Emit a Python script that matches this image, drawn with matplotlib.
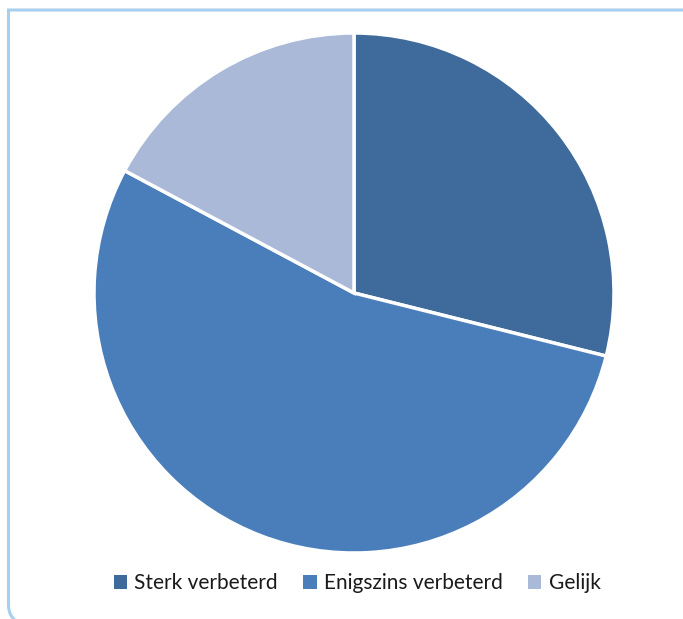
import matplotlib
matplotlib.use("Agg")
import matplotlib.pyplot as plt
from matplotlib.patches import Patch, PathPatch
from matplotlib.path import Path

# data
labels = ['Sterk verbeterd', 'Enigszins verbeterd', 'Gelijk']
values = [28.9, 53.9, 17.2]
colors = ['#3F6A9C', '#4A7EBB', '#AAB9D7']

plt.rcParams['font.family'] = ['Lato', 'DejaVu Sans']

W, H = 683, 619
fig = plt.figure(figsize=(W / 100, H / 100), dpi=100)

# light blue frame: top and left edges, rounded bottom-left corner (pixel coords)
x0, ytop, r = 8.5, 10, 14
verts = [(W + 5, H - ytop), (x0, H - ytop), (x0, r), (x0, 0), (x0 + r, -6)]
codes = [Path.MOVETO, Path.LINETO, Path.LINETO, Path.CURVE3, Path.CURVE3]
verts = [(x / W, y / H) for x, y in verts]
fig.patches.append(PathPatch(Path(verts, codes), transform=fig.transFigure,
                             facecolor='none', edgecolor='#A9CFEF', joinstyle='miter',
                             linewidth=2.2, clip_on=False))

ax = fig.add_axes([(354 - 260) / W, (H - 293 - 260) / H, 520 / W, 520 / H])
ax.pie(values, colors=colors, startangle=90, counterclock=False,
       wedgeprops=dict(edgecolor='white', linewidth=2.5))
ax.set_xlim(-1, 1)
ax.set_ylim(-1, 1)
ax.set_aspect('equal')
ax.axis('off')

handles = [Patch(facecolor=c, edgecolor='none', label=l) for c, l in zip(colors, labels)]
leg = fig.legend(handles=handles, loc='center', bbox_to_anchor=(357 / W, 1 - 583 / H),
                 ncol=3, frameon=False, fontsize=15, handlelength=0.65,
                 handleheight=0.65, handletextpad=0.35, columnspacing=1.2)
for t in leg.get_texts():
    t.set_color('#1a1a1a')

fig.savefig('out.png', dpi=100)
